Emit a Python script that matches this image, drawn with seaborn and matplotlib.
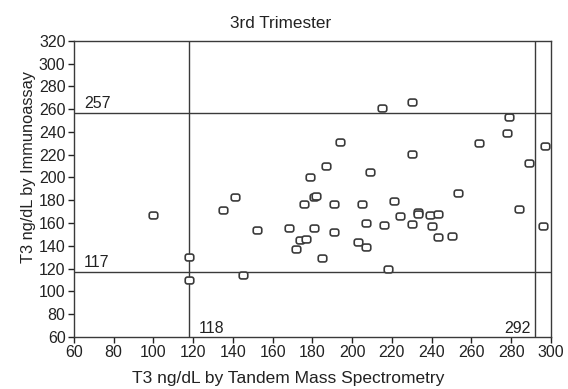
import matplotlib
matplotlib.use("Agg")
import matplotlib.pyplot as plt
from matplotlib.path import Path
import seaborn as sns
import pandas as pd
import numpy as np

title = "3rd Trimester"
x_label = "T3 ng/dL by Tandem Mass Spectrometry"
y_label = "T3 ng/dL by Immunoassay"

ms_t3 = [100, 118, 118, 135, 141, 145, 152, 168, 172, 174, 176, 177, 179, 181, 182,
         181, 185, 187, 191, 191, 194, 203, 205, 207, 207, 209, 215, 216, 218, 221,
         224, 230, 230, 230, 233, 233, 239, 240, 243, 243, 250, 253, 264, 278, 279,
         284, 289, 296, 297]
ia_t3 = [167, 130, 110, 171, 183, 114, 154, 156, 137, 145, 177, 146, 200, 183, 184,
         156, 129, 210, 177, 152, 231, 143, 177, 160, 139, 205, 261, 158, 120, 179,
         166, 266, 221, 159, 170, 168, 167, 157, 168, 148, 149, 186, 230, 239, 253,
         172, 213, 157, 228]

h_refs = [257, 117]
v_refs = [118, 292]
h_labels = ["257", "117"]
v_labels = ["118", "292"]

x_ticks = list(range(60, 301, 20))
y_ticks = list(range(60, 321, 20))

df = pd.DataFrame({"ms": ms_t3, "ia": ia_t3})

# rounded rectangle marker (wider than tall)
def rounded_rect(w=1.0, h=0.8, r=0.26, n=6):
    pts = []
    corners = [(w / 2 - r, h / 2 - r, 0), (-w / 2 + r, h / 2 - r, 90),
               (-w / 2 + r, -h / 2 + r, 180), (w / 2 - r, -h / 2 + r, 270)]
    for cx, cy, a0 in corners:
        for t in np.linspace(np.radians(a0), np.radians(a0 + 90), n):
            pts.append((cx + r * np.cos(t), cy + r * np.sin(t)))
    pts.append(pts[0])
    codes = [Path.MOVETO] + [Path.LINETO] * (len(pts) - 2) + [Path.CLOSEPOLY]
    return Path(pts, codes)

sns.set_theme(style="ticks")
plt.rcParams["font.family"] = ["Liberation Sans", "DejaVu Sans"]

fig = plt.figure(figsize=(5.68, 3.89), dpi=100)
ax = fig.add_axes([0.130, 0.134, 0.840, 0.761])

dark = "#3a3a3a"
txt = "#222222"
sns.scatterplot(data=df, x="ms", y="ia", ax=ax, marker=rounded_rect(), s=38,
                facecolor="white", edgecolor=dark, linewidth=1.2, zorder=3)

for v in h_refs:
    ax.axhline(v, color=dark, linewidth=1.0, zorder=2)
for v in v_refs:
    ax.axvline(v, color=dark, linewidth=1.0, zorder=2)

fs = 11.5
ax.text(65, h_refs[0] + 1.5, h_labels[0], fontsize=fs, color=txt, ha="left", va="bottom")
ax.text(65, h_refs[1] + 1.5, h_labels[1], fontsize=fs, color=txt, ha="left", va="bottom")
ax.text(v_refs[0] + 5, 60.5, v_labels[0], fontsize=fs, color=txt, ha="left", va="bottom")
ax.text(v_refs[1] - 2, 60.5, v_labels[1], fontsize=fs, color=txt, ha="right", va="bottom")

ax.set_xlim(60, 300)
ax.set_ylim(60, 320)
ax.set_xticks(x_ticks)
ax.set_yticks(y_ticks)
ax.tick_params(axis="both", labelsize=fs, colors=txt, length=4, width=1, direction="out", pad=2)
for sp in ax.spines.values():
    sp.set_visible(True)
    sp.set_color(dark)
    sp.set_linewidth(1.0)

ax.set_title(title, fontsize=12.3, color=txt, pad=9, x=0.434)
ax.set_xlabel(x_label, fontsize=12.5, color=txt)
ax.xaxis.set_label_coords(0.449, -0.115)
ax.set_ylabel(y_label, fontsize=11.8, color=txt)
ax.yaxis.set_label_coords(-0.08, 0.574)

fig.savefig("out.png", dpi=100, facecolor="white")
